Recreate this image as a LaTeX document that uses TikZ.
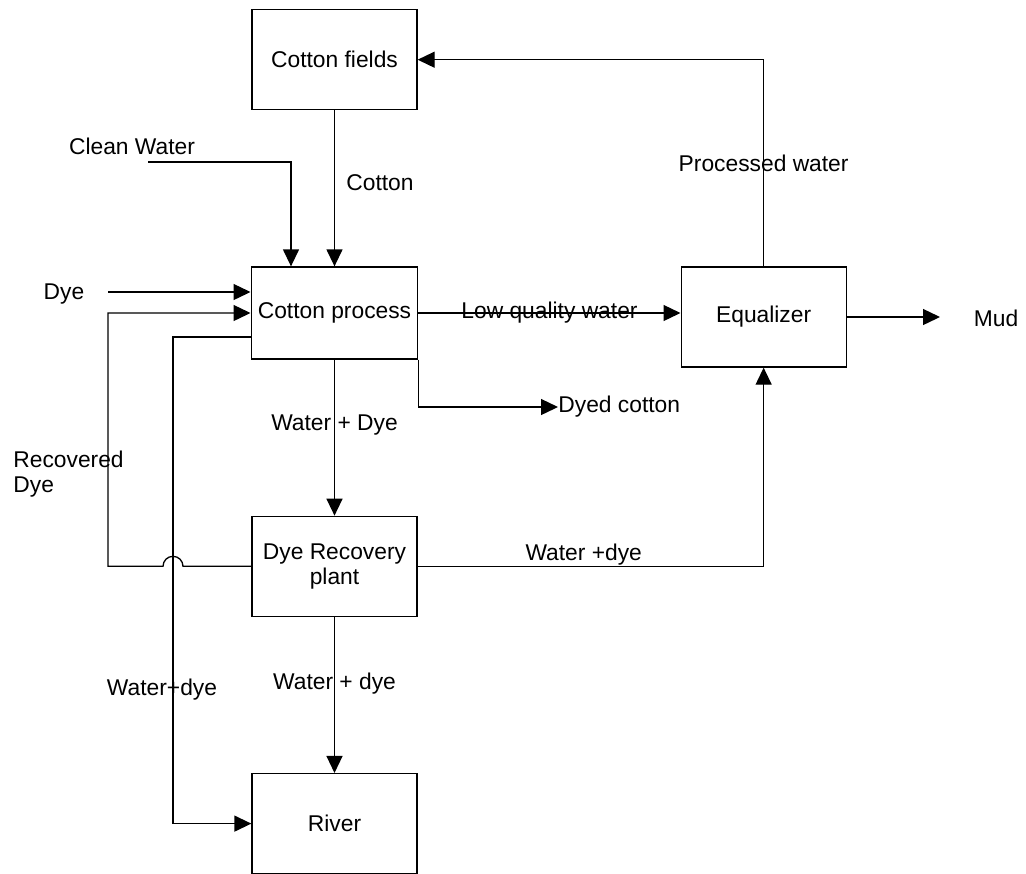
\documentclass[tikz,border=0pt]{standalone}
\usepackage{fontspec}
\setmainfont{Liberation Sans}
\usetikzlibrary{positioning,arrows.meta}

\begin{document}
\begin{tikzpicture}[
  x=0.5pt, y=-0.5pt,
  node distance=78pt and 131pt,
  every node/.style={font=\fontsize{11.4}{12.5}\selectfont},
  box/.style={rectangle, draw, line width=0.65pt, align=center, minimum width=82.5pt, minimum height=50pt},
  flow/.style={line width=0.65pt, -{Triangle[length=8.5pt,width=8pt]}},
  lbl/.style={inner sep=0pt}
]
\useasboundingbox (0,0) rectangle (1026,873);
\node[box, minimum height=46pt] (cp) at (334.5,313) {Cotton process};
\node[box, above=of cp] (cf) {Cotton fields};
\node[box, below=of cp] (dr) {Dye Recovery\\plant};
\node[box, below=of dr] (rv) {River};
\node[box, right=of cp.north east, anchor=north west] (eq) {Equalizer};
\node (dye) at (64,294) {Dye};
\node (cw) at (132,146) {Clean Water};
\node[lbl, anchor=west] (cot) at (346,183) {Cotton};
\node[lbl, align=left, anchor=west] (rec) at (13,474) {Recovered\\Dye};
\node (wdl) at (162,690) {Water+dye};
\node (mud) at (996,318) {Mud};
\node[lbl, anchor=west] (dyed) at (558,407) {Dyed cotton};
\coordinate (dyein) at (108,292);
\coordinate (cwin) at (148,162);
\coordinate (cwturn) at (291,162);
\coordinate (rdturn) at (108,565);
\coordinate (wdturn) at (173,337);
\coordinate (mudtip) at (940,318);
\draw[flow] (dyein) -- (dyein -| cp.west);
\draw[flow] (cwin) -- (cwturn) -- (cwturn |- cp.north);
\draw[flow] (cf) -- (cp);
\draw[flow] (cp) -- node[lbl]{Low quality water} (eq.west |- cp);
\draw[flow] (eq) -- (mudtip |- eq.east);
\draw[flow] (eq.north) -- node{Processed water} (eq.north |- cf.east) -- (cf.east);
\draw[flow] (cp) -- node[pos=0.42]{Water + Dye} (dr);
\draw[flow] (cp.south east) |- (dyed.west);
\draw[flow] (dr) -| node[lbl, pos=0.24, above]{Water +dye} (eq.south);
\draw[flow] (dr) -- node[pos=0.43]{Water + dye} (rv);
\draw[flow] (wdturn -| cp.west) -- (wdturn) |- (rv.west);
\draw[flow] (dr.west) -- ([xshift=5pt]wdturn |- dr.west) arc[start angle=0, end angle=180, radius=5pt] -- (rdturn |- dr.west) |- (cp.west);
\end{tikzpicture}
\end{document}
